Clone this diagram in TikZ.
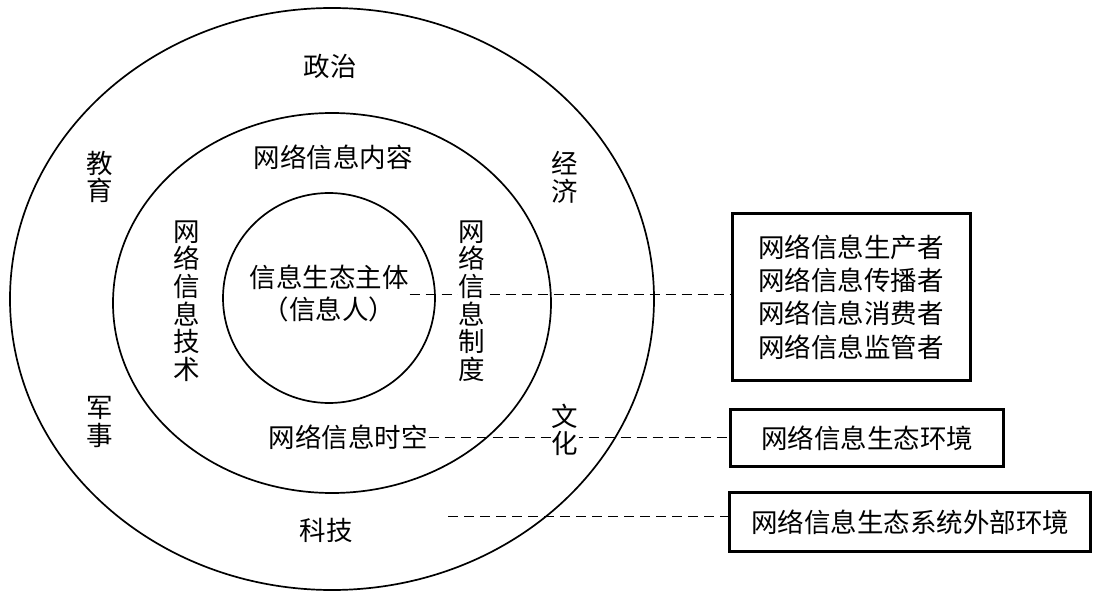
\documentclass[tikz,border=0pt]{standalone}
\usepackage{fontspec}
\newfontfamily\cjk{Noto Sans CJK SC}
\usetikzlibrary{backgrounds}
\tikzset{ring/.style={line width=1.7pt},
  lbl/.style={inner sep=1pt, align=center, font=\cjk\fontsize{26.5}{27.6}\selectfont},
  mask/.style={lbl, fill=white},
  rolebox/.style={draw, line width=3pt, align=center, inner sep=0pt, font=\cjk\fontsize{26.5}{33.3}\selectfont},
  link/.style={dashed, dash pattern=on 10pt off 6pt, line width=1pt}}

\begin{document}
\begin{tikzpicture}[x=1pt, y=-1pt]
  \useasboundingbox (0,0) rectangle (1098,596);
  % three rings
  \draw[ring] (332,299) ellipse [x radius=322pt, y radius=291pt];
  \draw[ring] (332,303) ellipse [x radius=219pt, y radius=190pt];
  \draw[ring] (329,298) ellipse [x radius=106pt, y radius=105pt];
  % outer ring
  \node[lbl] (zz) at (330,66)  {政治};
  \node[lbl] (jy) at (100,177) {教\\育};
  \node[lbl] (jj) at (565,177) {经\\济};
  \node[lbl] (jsh) at (100,422) {军\\事};
  \node[mask] (wh) at (565,430) {文\\化};
  \node[lbl] (kj) at (326,530) {科技};
  % middle ring
  \node[lbl] (nr) at (333,157) {网络信息内容};
  \node[lbl] (js) at (187,301) {网\\络\\信\\息\\技\\术};
  \node[mask] (zd) at (472,301) {网\\络\\信\\息\\制\\度};
  \node[lbl] (sk) at (348,437) {网络信息时空};
  % core
  \node[lbl, font=\cjk\fontsize{26.5}{32}\selectfont] (zt) at (329,294) {信息生态主体\\（信息人）};
  % boxes on the right
  \node[rolebox, minimum width=238pt, minimum height=166pt] (rl) at (851,297)
    {网络信息生产者\\网络信息传播者\\网络信息消费者\\网络信息监管者};
  \node[rolebox, minimum width=273pt, minimum height=57pt] (env) at (867,438) {网络信息生态环境};
  \node[rolebox, minimum width=361pt, minimum height=59pt] (out) at (910,522) {网络信息生态系统外部环境};
  \coordinate (ext) at (448,516);
  \begin{scope}[on background layer]
    \draw[link] (zt.east) -- (zt.east -| rl.west);
    \draw[link] (sk.east) -- (sk.east -| env.west);
    \draw[link] (ext) -- (ext -| out.west);
  \end{scope}
\end{tikzpicture}
\end{document}
